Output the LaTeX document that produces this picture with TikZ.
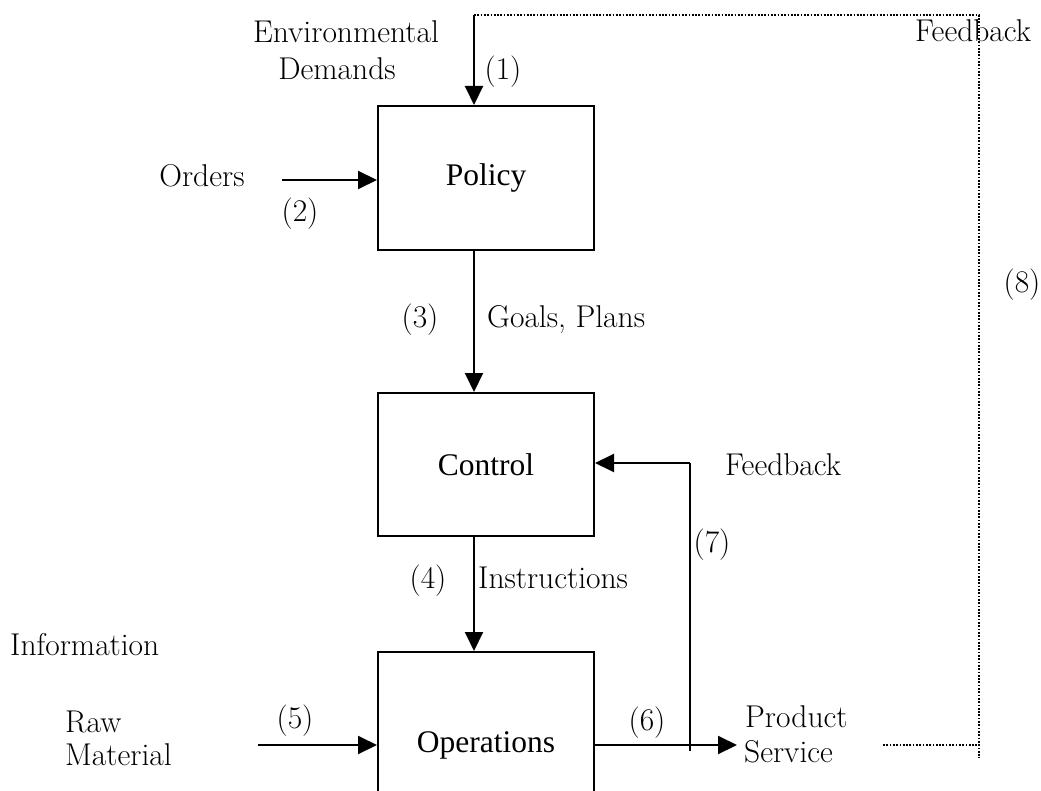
\documentclass[tikz,border=0pt]{standalone}
\usepackage{fontspec}
\newfontfamily\boxfont{Liberation Serif}
\usetikzlibrary{arrows.meta}
\begin{document}
\begin{tikzpicture}[x=1pt,y=-1pt,
  box/.style={draw,line width=2pt,minimum width=216pt,inner sep=0pt,font=\boxfont\fontsize{31.5}{36}\selectfont},
  lbl/.style={inner sep=0pt,font=\fontsize{31.5}{36}\selectfont},
  arr/.style={line width=2pt,-{Triangle[length=19pt,width=18pt]}},
  ln/.style={line width=2pt},
  fb/.style={line width=1.7pt,dash pattern=on 1.7pt off 1.6pt}]
\useasboundingbox (0,0) rectangle (1041,791);
\clip (0,0) rectangle (1041,791);
\fill[white] (0,0) rectangle (1041,791);
% boxes
\node[box,minimum height=144pt] (policy) at (486,178) {Policy};
\node[box,minimum height=143pt] (control) at (486,464.5) {Control};
\node[box,minimum height=186pt] (ops) at (486,745) {Operations};
% helper coordinates
\coordinate (ax) at (474,0);
\coordinate (fbstart) at (474,15);
\coordinate (fbcorner) at (979,15);
\coordinate (fbbottom) at (979,758);
\coordinate (fbend) at (883,745);
\coordinate (ordersstart) at (282,180);
\coordinate (rawstart) at (258,745);
\coordinate (prodend) at (737,745);
\coordinate (fbbase) at (690,751);
\coordinate (fbmid) at (690,463);
% connectors
\draw[arr] (fbstart) -- (fbstart |- policy.north);
\draw[fb] (fbstart) -- (fbcorner) -- (fbbottom);
\draw[fb] (fbend) -- (fbend -| fbcorner);
\draw[arr] (ordersstart) -- (ordersstart -| policy.west);
\draw[arr] (policy.south -| ax) -- (control.north -| ax);
\draw[arr] (control.south -| ax) -- (ops.north -| ax);
\draw[arr] (rawstart) -- (rawstart -| ops.west);
\draw[arr] (rawstart -| ops.east) -- (prodend);
\draw[ln] (fbbase) -- (fbmid);
\draw[arr] (fbmid) -- (fbmid -| control.east);
% labels
\node[lbl,anchor=base] (env1) at (346,43) {Environmental};
\node[lbl,anchor=base] (env2) at (337,80) {Demands};
\node[lbl,anchor=base] (l1) at (503,80) {(1)};
\node[lbl,anchor=base] (orders) at (202,187) {Orders};
\node[lbl,anchor=base] (l2) at (300,222) {(2)};
\node[lbl,anchor=base] (l3) at (420,328) {(3)};
\node[lbl,anchor=base west] (goals) at (487,328) {Goals, Plans};
\node[lbl,anchor=base west] (fb1) at (725,475) {Feedback};
\node[lbl,anchor=base] (l7) at (712,552) {(7)};
\node[lbl,anchor=base] (l4) at (428,588) {(4)};
\node[lbl,anchor=base west] (instr) at (478,588) {Instructions};
\node[lbl,anchor=base west] (info) at (10,655) {Information};
\node[lbl,anchor=base west] (raw1) at (65,732) {Raw};
\node[lbl,anchor=base west] (raw2) at (65,765) {Material};
\node[lbl,anchor=base] (l5) at (295,728) {(5)};
\node[lbl,anchor=base] (l6) at (647,730) {(6)};
\node[lbl,anchor=base west] (prod1) at (745,727) {Product};
\node[lbl,anchor=base west] (prod2) at (744,762) {Service};
\node[lbl,anchor=base west] (fb2) at (915,42) {Feedback};
\node[lbl,anchor=base] (l8) at (1022,293) {(8)};
\end{tikzpicture}
\end{document}
